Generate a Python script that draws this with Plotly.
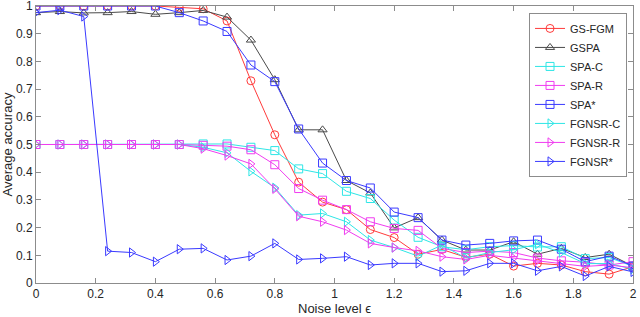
import plotly.graph_objects as go

noise = [round(0.08 * i, 2) for i in range(26)]

gs_fgm = [1.0, 1.0, 1.0, 1.0, 1.0, 1.0, 0.995, 0.99, 0.946, 0.730, 0.535, 0.364, 0.292, 0.265, 0.193, 0.164,
          0.104, 0.121, 0.093, 0.104, 0.061, 0.071, 0.065, 0.041, 0.032, 0.059]
gspa = [0.976, 0.98, 0.975, 0.976, 0.98, 0.970, 0.976, 0.984, 0.960, 0.877, 0.734, 0.553, 0.553, 0.370, 0.325, 0.199,
        0.236, 0.155, 0.119, 0.119, 0.149, 0.104, 0.125, 0.092, 0.104, 0.061]
spa_c = [0.5, 0.5, 0.5, 0.5, 0.5, 0.5, 0.5, 0.502, 0.502, 0.490, 0.478, 0.412, 0.395, 0.331, 0.305, 0.227,
         0.165, 0.131, 0.120, 0.131, 0.135, 0.130, 0.131, 0.088, 0.092, 0.060]
spa_r = [0.5, 0.5, 0.5, 0.5, 0.5, 0.5, 0.5, 0.497, 0.494, 0.481, 0.427, 0.341, 0.299, 0.265, 0.221, 0.197,
         0.190, 0.125, 0.110, 0.115, 0.110, 0.090, 0.080, 0.075, 0.065, 0.077]
spa_star = [1.0, 1.0, 1.0, 1.0, 1.0, 1.0, 0.976, 0.946, 0.908, 0.787, 0.727, 0.556, 0.433, 0.370, 0.343, 0.256,
            0.236, 0.155, 0.137, 0.143, 0.152, 0.155, 0.122, 0.077, 0.097, 0.061]
fgnsr_c = [0.5, 0.5, 0.5, 0.5, 0.5, 0.5, 0.5, 0.49, 0.470, 0.403, 0.344, 0.245, 0.251, 0.221, 0.155, 0.128,
           0.097, 0.137, 0.090, 0.110, 0.120, 0.140, 0.110, 0.070, 0.070, 0.050]
fgnsr_r = [0.5, 0.5, 0.5, 0.5, 0.5, 0.5, 0.5, 0.485, 0.460, 0.430, 0.340, 0.241, 0.221, 0.191, 0.143, 0.128,
           0.116, 0.095, 0.085, 0.100, 0.090, 0.080, 0.070, 0.060, 0.065, 0.055]
fgnsr_star = [0.976, 0.985, 0.962, 0.115, 0.110, 0.077, 0.122, 0.125, 0.083, 0.097, 0.143, 0.085, 0.089, 0.095,
              0.065, 0.071, 0.071, 0.041, 0.044, 0.071, 0.071, 0.044, 0.060, 0.025, 0.060, 0.040]

series = [
    ("GS-FGM", gs_fgm, "#ff3b3b", "circle-open"),
    ("GSPA", gspa, "#4a4a4a", "triangle-up-open"),
    ("SPA-C", spa_c, "#2ee6e6", "square-open"),
    ("SPA-R", spa_r, "#f03cf0", "square-open"),
    ("SPA*", spa_star, "#3a3aff", "square-open"),
    ("FGNSR-C", fgnsr_c, "#2ee6e6", "triangle-right-open"),
    ("FGNSR-R", fgnsr_r, "#f03cf0", "triangle-right-open"),
    ("FGNSR*", fgnsr_star, "#3a3aff", "triangle-right-open"),
]

FONT = "Liberation Sans, Arial, sans-serif"

fig = go.Figure()
for name, vals, color, sym in series:
    fig.add_trace(go.Scatter(
        x=noise, y=vals, name=name, mode="lines+markers",
        line=dict(color=color, width=1),
        marker=dict(symbol=sym, size=8, color=color, line=dict(width=1, color=color)),
    ))

axis_common = dict(
    showline=True, linecolor="#8c8c8c", linewidth=1, mirror="ticks",
    ticks="inside", ticklen=5, tickcolor="#8c8c8c", showgrid=False, zeroline=False,
    tickfont=dict(family=FONT, size=12, color="#262626"),
    ticklabeloverflow="allow",
)

fig.update_xaxes(range=[0, 2], tickmode="array", tickvals=[0, 0.2, 0.4, 0.6, 0.8, 1, 1.2, 1.4, 1.6, 1.8, 2],
                 ticktext=["0", "0.2", "0.4", "0.6", "0.8", "1", "1.2", "1.4", "1.6", "1.8", "2"],
                 **axis_common)
fig.update_yaxes(range=[0, 1], tickmode="array", tickvals=[i / 10 for i in range(11)],
                 ticktext=["0", "0.1", "0.2", "0.3", "0.4", "0.5", "0.6", "0.7", "0.8", "0.9", "1"],
                 title=dict(text="Average accuracy", standoff=2,
                            font=dict(family=FONT, size=13, color="#262626")),
                 **axis_common)

fig.add_annotation(text="Noise level ϵ", xref="paper", yref="paper", x=0.5, y=-0.1227,
                   xanchor="center", yanchor="bottom", showarrow=False, borderpad=0,
                   font=dict(family=FONT, size=13, color="#262626"))

fig.update_layout(
    width=640, height=317,
    margin=dict(l=36, r=7, t=6, b=34, autoexpand=False),
    plot_bgcolor="white", paper_bgcolor="white",
    legend=dict(x=0.99, xanchor="right", y=0.975, yanchor="top",
                bgcolor="white", bordercolor="#8c8c8c", borderwidth=1,
                font=dict(family=FONT, size=11, color="#262626"),
                itemwidth=30, tracegroupgap=0),
    showlegend=True,
)

fig.write_html("out.html", config={"displayModeBar": False},
               post_script="document.body.style.margin='0px';")
